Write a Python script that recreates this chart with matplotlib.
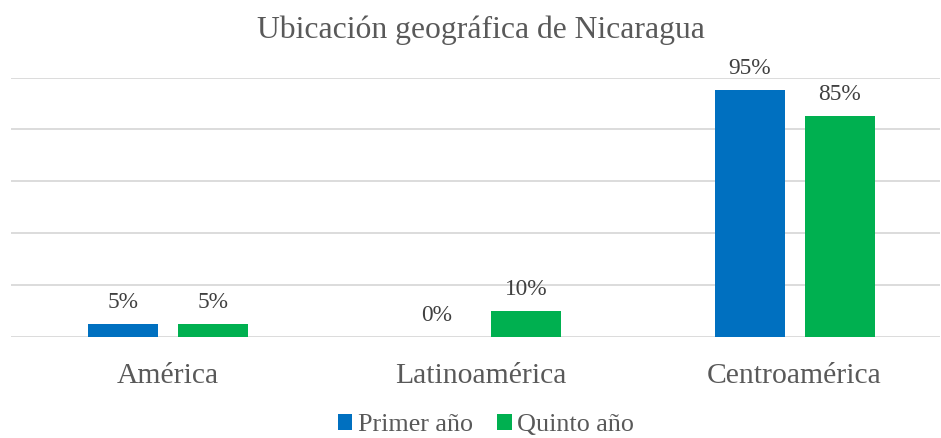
import matplotlib.pyplot as plt
import numpy as np

categorias = ['América', 'Latinoamérica', 'Centroamérica']
primer_anio = [5, 0, 95]
quinto_anio = [5, 10, 85]
series = ['Primer año', 'Quinto año']
colores = ['#0070C0', '#00B050']

plt.rcParams['font.family'] = ['Liberation Serif', 'DejaVu Serif']

W, H = 941, 438
fig = plt.figure(figsize=(W / 100, H / 100), dpi=100)
# plot area in pixels: x 11..940, y 77.5..337
ax = fig.add_axes([11 / W, (H - 337) / H, (940 - 11) / W, (337 - 77.5) / H])

x = np.arange(len(categorias))
ancho = 0.2235
desp = 0.1437
b1 = ax.bar(x - desp, primer_anio, ancho, color=colores[0], label=series[0], zorder=3)
b2 = ax.bar(x + desp, quinto_anio, ancho, color=colores[1], label=series[1], zorder=3)

for barras in (b1, b2):
    for r in barras:
        ax.annotate(f'{r.get_height():.0f}%', (r.get_x() + r.get_width() / 2, r.get_height()),
                    xytext=(0, 8), textcoords='offset points', ha='center', va='bottom',
                    fontsize=16.8, color='#404040')

ax.set_xlim(-0.501, 2.464)
ax.set_ylim(0, 100)
ax.set_yticks(np.arange(0, 101, 20))
ax.yaxis.grid(True, color='#D9D9D9', linewidth=1.3, zorder=0)
ax.tick_params(axis='y', left=False, labelleft=False)
ax.tick_params(axis='x', length=0, pad=18.5, labelsize=21.3, labelcolor='#595959')
ax.set_xticks(x)
ax.set_xticklabels(categorias)
for s in ax.spines.values():
    s.set_visible(False)

fig.text(481 / W, 1 - 30 / H, 'Ubicación geográfica de Nicaragua', ha='center', va='center',
         fontsize=22.8, color='#595959')

fig.legend(loc='center', bbox_to_anchor=(486 / W, 1 - 425 / H), ncol=2, frameon=False,
           fontsize=18.8, labelcolor='#595959', handlelength=0.55, handleheight=0.55,
           handletextpad=0.2, columnspacing=0.95, borderpad=0.2)

fig.savefig('out.png', dpi=100)
